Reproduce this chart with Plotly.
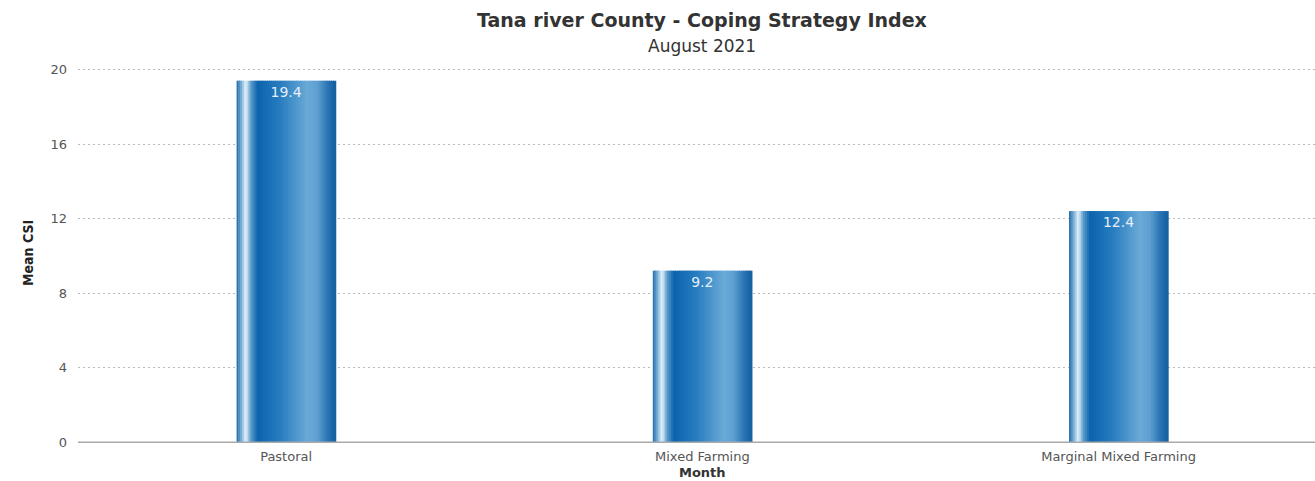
import plotly.graph_objects as go

categories = ["Pastoral", "Mixed Farming", "Marginal Mixed Farming"]
mean_csi = [19.4, 9.2, 12.4]
value_labels = ["19.4", "9.2", "12.4"]
y_ticks = [0, 4, 8, 12, 16, 20]

FONT = "DejaVu Sans, Liberation Sans, Arial"
BAR_W = 0.238
N = 48
stops = [
    (0.00, (30, 100, 160)),
    (0.05, (110, 170, 215)),
    (0.10, (235, 244, 250)),
    (0.15, (90, 155, 205)),
    (0.22, (12, 100, 172)),
    (0.45, (40, 125, 192)),
    (0.72, (105, 170, 215)),
    (0.82, (95, 160, 210)),
    (0.93, (40, 115, 180)),
    (1.00, (20, 95, 160)),
]

def color_at(t):
    for (t0, c0), (t1, c1) in zip(stops[:-1], stops[1:]):
        if t0 <= t <= t1:
            f = (t - t0) / (t1 - t0) if t1 > t0 else 0
            c = [round(a + (b - a) * f) for a, b in zip(c0, c1)]
            return f"rgb({c[0]},{c[1]},{c[2]})"
    return "rgb(20,95,160)"

fig = go.Figure()
sw = BAR_W / N
for i in range(N):
    t = (i + 0.5) / N
    fig.add_trace(go.Bar(
        x=categories, y=mean_csi,
        width=sw * 1.6, offset=-BAR_W / 2 + i * sw - (0.3 * sw if i > 0 else 0),
        marker=dict(color=color_at(t), line=dict(width=0)),
        hoverinfo="skip", showlegend=False,
    ))
# label trace
fig.add_trace(go.Bar(
    x=categories, y=mean_csi, width=BAR_W, offset=-BAR_W / 2,
    marker=dict(color="rgba(0,0,0,0)", line=dict(width=0)),
    text=value_labels, textposition="inside", insidetextanchor="end",
    textfont=dict(color="#e6eff8", size=14, family=FONT),
    textangle=0, showlegend=False,
))

fig.update_layout(
    width=1315, height=481,
    barmode="overlay",
    plot_bgcolor="white", paper_bgcolor="white",
    margin=dict(l=78, r=0, t=64, b=39),
    font=dict(family=FONT, color="#444"),
    xaxis=dict(
        range=[-0.5, 2.472], showgrid=False, showline=True, linecolor="#aaa",
        linewidth=1, ticks="", tickfont=dict(size=13, color="#555"),
        ticklabelstandoff=2, fixedrange=True,
    ),
    yaxis=dict(
        range=[0, 20.3], tickvals=y_ticks, showgrid=True, gridcolor="#bbb",
        griddash="2px,3px", gridwidth=1, zeroline=False, showline=False,
        tickfont=dict(size=13, color="#555"), ticklabelstandoff=10,
    ),
    annotations=[
        dict(text="<b>Tana river County - Coping Strategy Index</b>", x=1, xref="x",
             y=1, yref="paper", yanchor="bottom", yshift=31, showarrow=False,
             font=dict(size=19, color="#333", family=FONT)),
        dict(text="August 2021", x=1, xref="x", y=1, yref="paper", yshift=6,
             yanchor="bottom", showarrow=False, font=dict(size=17, color="#333", family=FONT)),
        dict(text="<b>Mean CSI</b>", x=0, xref="paper", xshift=-60, y=0.5,
             yref="paper", textangle=-90, showarrow=False,
             font=dict(size=14, color="#222",
                       family="DejaVu Sans Condensed, Liberation Sans Narrow, Liberation Sans")),
        dict(text="<b>Month</b>", x=1, xref="x", y=0, yref="paper", yshift=-30,
             yanchor="middle", showarrow=False, font=dict(size=13, color="#333", family=FONT)),
    ],
)

fig.add_hline(y=0, line=dict(color="#aaa", width=1))

fig.write_html("out.html")
